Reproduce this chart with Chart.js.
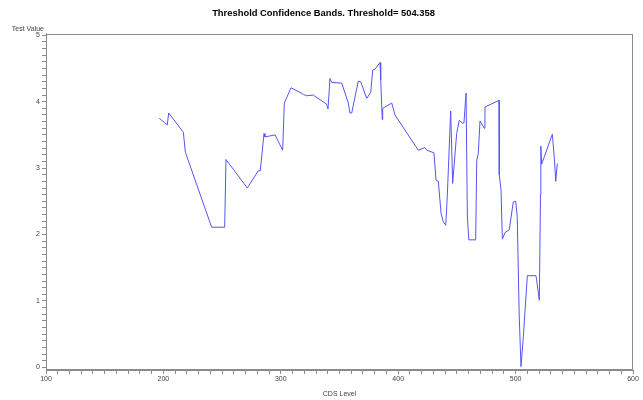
<!DOCTYPE html>
<html>
<head>
<meta charset="utf-8">
<title>Threshold Confidence Bands</title>
<script src="https://cdn.jsdelivr.net/npm/chart.js@4.4.0/dist/chart.umd.min.js"></script>
<style>
  html, body { margin: 0; padding: 0; background: #fff; }
  #wrap { width: 643px; height: 400px; }
</style>
</head>
<body>
<div id="wrap"><canvas id="bands"></canvas></div>
<script>
const chartTitle = 'Threshold Confidence Bands. Threshold= 504.358';
const xLabel = 'CDS Level';
const yLabel = 'Test Value';

const cdsLevel = [
  196.5, 203.3, 204.5, 217.0, 218.7, 241.1, 252.2, 253.3, 271.5, 280.8,
  282.5, 285.7, 286.5, 295.1, 301.6, 303.0, 308.7, 316.4, 319.2, 322.1,
  327.7, 339.1, 340.2, 341.9, 343.4, 351.9, 357.5, 358.9, 360.4, 366.0,
  368.1, 373.2, 376.6, 378.3, 380.2, 384.5, 385.1, 386.4, 386.8, 394.5,
  397.3, 417.1, 422.8, 424.3, 430.5, 432.2, 434.2, 436.5, 438.4, 440.5,
  441.8, 444.7, 446.4, 449.8, 452.0, 454.6, 456.0, 457.8, 458.9, 460.1,
  466.0, 466.9, 468.2, 469.7, 473.3, 473.9, 485.9, 486.1, 487.6, 488.7,
  491.0, 494.6, 498.0, 500.1, 501.4, 503.1, 504.6, 506.6, 510.0, 517.4,
  520.2, 521.2, 521.5, 522.2, 531.3, 533.0, 534.2, 535.5
];
const testValue = [
  3.75, 3.65, 3.83, 3.54, 3.24, 2.11, 2.11, 3.13, 2.70, 2.96,
  2.96, 3.52, 3.47, 3.50, 3.27, 3.98, 4.21, 4.14, 4.11, 4.09,
  4.10, 3.96, 3.89, 4.35, 4.29, 4.28, 3.98, 3.83, 3.83, 4.31,
  4.30, 4.05, 4.14, 4.48, 4.49, 4.59, 4.33, 3.73, 3.90, 3.98,
  3.80, 3.27, 3.31, 3.27, 3.23, 2.82, 2.80, 2.32, 2.19, 2.14,
  2.57, 3.86, 2.77, 3.52, 3.72, 3.68, 3.68, 4.13, 2.28, 1.92,
  1.92, 3.12, 3.22, 3.71, 3.60, 3.92, 4.02, 2.90, 2.67, 1.93,
  2.03, 2.07, 2.49, 2.50, 2.27, 0.76, 0.01, 0.46, 1.38, 1.38,
  1.01, 2.60, 3.33, 3.06, 3.51, 3.15, 2.80, 3.07
];

const xTicks = [100, 200, 300, 400, 500, 600];
const yTicks = [0, 1, 2, 3, 4, 5];

const fontFamily = '"Liberation Sans", Arial, sans-serif';
const axisGray = '#8a8a8a';
const textGray = '#444';

// frame around the plot area plus the y-axis caption above it
const framePlugin = {
  id: 'frame',
  beforeDatasetsDraw(chart) {
    const { ctx, chartArea } = chart;
    ctx.save();
    ctx.strokeStyle = axisGray;
    ctx.lineWidth = 1;
    ctx.strokeRect(Math.round(chartArea.left) + 0.5, Math.round(chartArea.top) + 0.5,
      Math.round(chartArea.right - chartArea.left) - 1, Math.round(chartArea.bottom - chartArea.top) - 1);
    ctx.restore();
  },
  afterDraw(chart) {
    const { ctx, chartArea } = chart;
    ctx.save();
    ctx.font = '7px ' + fontFamily;
    ctx.fillStyle = textGray;
    ctx.textAlign = 'right';
    ctx.textBaseline = 'middle';
    ctx.fillText(yLabel, chartArea.left - 2, chartArea.top - 5);
    ctx.restore();
  }
};

new Chart(document.getElementById('bands'), {
  type: 'scatter',
  data: {
    datasets: [{
      data: cdsLevel.map((x, i) => ({ x: x, y: testValue[i] })),
      showLine: true,
      borderColor: 'rgb(85,85,240)',
      borderWidth: 1,
      pointRadius: 0,
      tension: 0
    }]
  },
  options: {
    responsive: true,
    maintainAspectRatio: false,
    animation: false,
    layout: { padding: { left: 14, right: 10, top: 0, bottom: 0 } },
    plugins: {
      legend: { display: false },
      tooltip: { enabled: false },
      title: {
        display: true,
        text: chartTitle,
        color: '#000',
        font: { family: fontFamily, size: 9.4, weight: 'bold', lineHeight: 1.2 },
        padding: { top: 8, bottom: 14.7 }
      }
    },
    scales: {
      x: {
        type: 'linear',
        min: 100,
        max: 600,
        afterFit(scale) { scale.height = 30; },
        afterBuildTicks(scale) {
          const t = [];
          for (let v = 100; v <= 600; v += 10) t.push({ value: v });
          scale.ticks = t;
        },
        ticks: {
          autoSkip: false,
          maxRotation: 0,
          padding: 1,
          color: textGray,
          font: { family: fontFamily, size: 7 },
          callback: v => xTicks.includes(v) ? String(v) : ''
        },
        grid: {
          drawOnChartArea: false,
          tickLength: 4,
          tickColor: axisGray
        },
        border: { color: axisGray },
        title: {
          display: true,
          text: xLabel,
          color: textGray,
          font: { family: fontFamily, size: 7 },
          padding: { top: 4, bottom: 2 }
        }
      },
      y: {
        type: 'linear',
        min: -0.04,
        max: 5.02,
        afterFit(scale) { scale.width = 32; },
        afterBuildTicks(scale) {
          const t = [];
          for (let i = 0; i <= 50; i++) t.push({ value: i / 10 });
          scale.ticks = t;
        },
        ticks: {
          autoSkip: false,
          padding: 2,
          color: textGray,
          font: { family: fontFamily, size: 7 },
          callback: v => yTicks.includes(Math.round(v * 10) / 10) && Math.abs(v - Math.round(v)) < 1e-6 ? String(Math.round(v)) : ''
        },
        grid: {
          drawOnChartArea: false,
          tickLength: 4,
          tickColor: axisGray
        },
        border: { color: axisGray }
      }
    }
  },
  plugins: [framePlugin]
});
</script>
</body>
</html>
